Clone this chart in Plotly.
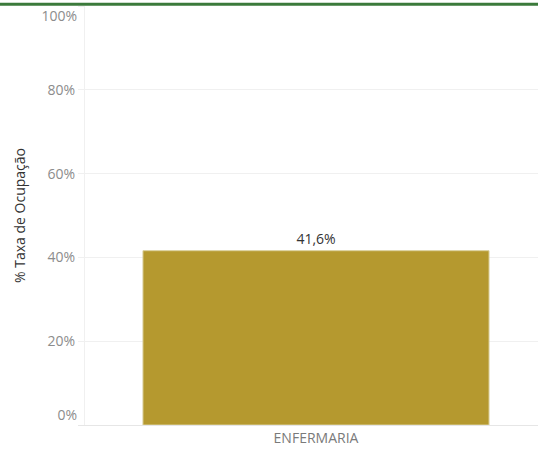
import plotly.graph_objects as go

categories = ["ENFERMARIA"]
occupancy = [0.416]
tick_vals = [0, 0.2, 0.4, 0.6, 0.8, 1.0]
tick_text = ["0%", "20%", "40%", "60%", "80%", "100%"]

W, H = 538, 462
L, R, T, B = 85, 0, 6, 37
pw = W - L - R
ph = H - T - B

fig = go.Figure()
fig.add_trace(go.Bar(
    x=[0], y=occupancy, width=[0.749],
    marker=dict(color="#b5992f", line=dict(color="#d9cf9a", width=1)),
    texttemplate="%{y:.1%}", textposition="outside",
    textfont=dict(family="Open Sans", size=14, color="#333333"),
    cliponaxis=False, hoverinfo="skip",
))

mid_vals = tick_vals[1:-1]
mid_text = tick_text[1:-1]

tick_font = dict(size=14, color="#8c8c8c")

fig.update_layout(
    width=W, height=H,
    margin=dict(l=L, r=R, t=T, b=B, pad=0),
    paper_bgcolor="white", plot_bgcolor="white",
    separators=",.",
    showlegend=False,
    font=dict(family="Open Sans"),
    xaxis=dict(
        range=[-0.5, 0.4805], tickvals=[0], ticktext=categories,
        showgrid=False, zeroline=False, showline=True, linecolor="#e6e6e6",
        ticks="", tickfont=dict(size=14, color="#7a7a7a"),
    ),
    yaxis=dict(
        range=[0, 1], tickvals=mid_vals, ticktext=mid_text,
        showgrid=True, gridcolor="#f0f0f0", zeroline=False,
        showline=True, linecolor="#f0f0f0",
        ticks="outside", ticklen=6, tickcolor="#f0f0f0",
        tickfont=tick_font,
        title=dict(text="% Taxa de Ocupação", standoff=18,
                   font=dict(size=14, color="#333333")),
    ),
    yaxis2=dict(
        overlaying="y", range=[0, 1], tickvals=[tick_vals[-1]],
        ticktext=[tick_text[-1]], showgrid=False, zeroline=False,
        ticks="outside", ticklen=6, tickcolor="#f0f0f0",
        tickfont=tick_font, ticklabelposition="outside bottom",
        ticklabelstandoff=4, side="left",
    ),
    yaxis3=dict(
        overlaying="y", range=[0, 1], tickvals=[tick_vals[0]],
        ticktext=[tick_text[0]], showgrid=False, zeroline=False,
        ticks="outside", ticklen=6, tickcolor="#e6e6e6",
        tickfont=tick_font, ticklabelposition="outside top",
        ticklabelstandoff=4, side="left",
    ),
)

# invisible traces to activate overlay axes
fig.add_trace(go.Scatter(x=[0], y=[0], yaxis="y2", mode="markers",
                         marker=dict(opacity=0), hoverinfo="skip"))
fig.add_trace(go.Scatter(x=[0], y=[0], yaxis="y3", mode="markers",
                         marker=dict(opacity=0), hoverinfo="skip"))

# green top strip
fig.add_shape(type="rect", xref="paper", yref="paper",
              x0=-L / pw, x1=1 + 1 / pw,
              y0=1 + 0.3 / ph, y1=1 + 3.2 / ph,
              fillcolor="#3b7a3b", line=dict(width=0), layer="above")

fig.write_html("out.html", config={"displayModeBar": False},
               post_script="document.body.style.margin='0px';")
